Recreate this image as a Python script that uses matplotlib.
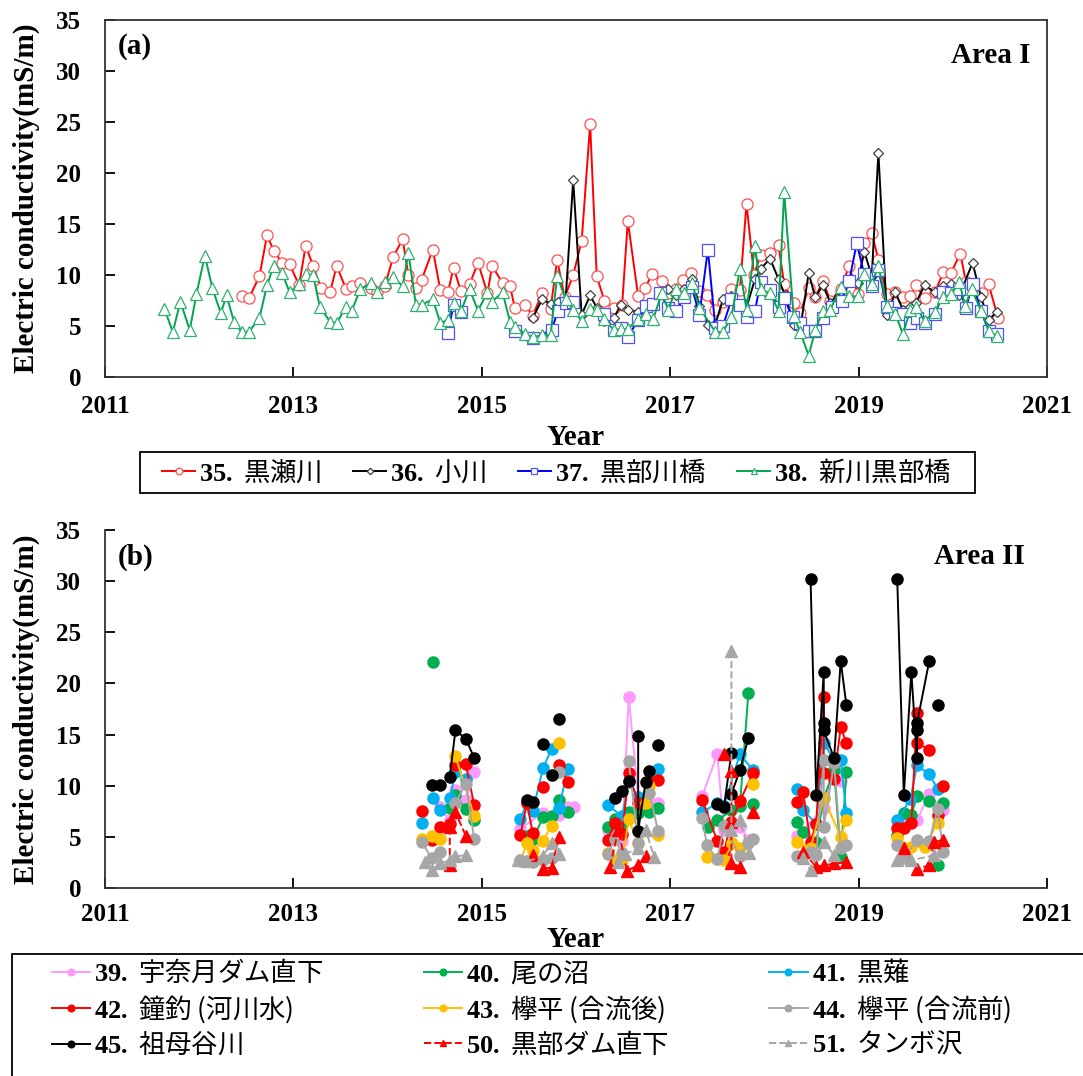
import numpy as np
import matplotlib
matplotlib.use('Agg')
import matplotlib.pyplot as plt
from matplotlib.patches import Rectangle

nan = np.nan

# ---- (a) Area I : monthly EC, open markers ----
s35_x = [2012.45, 2012.53, 2012.64, 2012.72, 2012.79, 2012.88, 2012.96, 2013.06, 2013.13, 2013.21,
         2013.29, 2013.39, 2013.46, 2013.56, 2013.62, 2013.71, 2013.82, 2013.89, 2013.97, 2014.06,
         2014.16, 2014.22, 2014.30, 2014.36, 2014.48, 2014.56, 2014.64, 2014.70, 2014.78, 2014.87,
         2014.96, 2015.06, 2015.11, 2015.22, 2015.30, 2015.35, 2015.46, 2015.54, 2015.64, 2015.73,
         2015.80, 2015.88, 2015.97, 2016.06, 2016.15, 2016.22, 2016.30, 2016.40, 2016.49, 2016.55,
         2016.66, 2016.73, 2016.81, 2016.91, 2016.98, 2017.06, 2017.14, 2017.22, 2017.31, 2017.39,
         2017.48, 2017.56, 2017.65, 2017.74, 2017.81, 2017.89, 2017.96, 2018.06, 2018.15, 2018.21,
         2018.31, 2018.38, 2018.47, 2018.54, 2018.62, 2018.70, 2018.81, 2018.90, 2018.99, 2019.06,
         2019.14, 2019.21, 2019.30, 2019.39, 2019.47, 2019.55, 2019.61, 2019.70, 2019.81, 2019.90,
         2019.98, 2020.08, 2020.14, 2020.23, 2020.31, 2020.38, 2020.48]
s35_v = [7.9, 7.75, 9.9, 13.9, 12.4, 11.2, 11.05, 9.0, 12.85, 10.9,
         8.75, 8.35, 10.9, 8.6, 8.9, 9.2, 8.7, 8.35, 8.9, 11.8,
         13.5, 10.0, 8.7, 9.5, 12.5, 8.5, 8.3, 10.7, 8.4, 9.1,
         11.2, 8.2, 10.9, 9.2, 8.9, 6.8, 7.1, 6.0, 8.2, 6.7,
         11.5, 7.8, 10.0, 13.3, 24.8, 9.9, 7.5, 6.8, 7.1, 15.3,
         7.9, 8.7, 10.1, 9.4, 8.2, 8.6, 9.5, 10.2, 8.4, 8.0,
         6.6, 7.4, 8.6, 8.5, 17.0, 10.0, 12.0, 12.2, 12.9, 9.1,
         7.3, 6.3, 8.7, 7.8, 9.4, 7.5, 8.6, 10.9, 8.1, 13.1,
         14.1, 11.5, 8.1, 8.3, 7.8, 7.9, 9.0, 7.7, 8.3, 10.3,
         10.2, 12.1, 9.3, 8.6, 8.2, 9.1, 5.8]

s36_x = [2015.54, 2015.64, 2015.73, 2015.81, 2015.89, 2015.97, 2016.06, 2016.15, 2016.22, 2016.30,
         2016.40, 2016.48, 2016.55, 2016.66, 2016.74, 2016.82, 2016.91, 2016.98, 2017.06, 2017.15,
         2017.23, 2017.31, 2017.40, 2017.48, 2017.56, 2017.65, 2017.74, 2017.81, 2017.90, 2017.96,
         2018.06, 2018.15, 2018.22, 2018.31, 2018.38, 2018.47, 2018.54, 2018.62, 2018.70, 2018.81,
         2018.90, 2018.99, 2019.06, 2019.14, 2019.21, 2019.30, 2019.39, 2019.47, 2019.55, 2019.61,
         2019.70, 2019.81, 2019.90, 2019.98, 2020.07, 2020.21, 2020.30, 2020.38, 2020.47]
s36_v = [5.8, 7.6, 7.2, 7.4, 7.6, 19.3, 6.1, 8.0, 6.8, 5.5,
         5.8, 7.1, 6.6, 6.4, 7.1, 7.2, 8.4, 8.6, 8.0, 8.6,
         9.6, 7.0, 5.1, 5.2, 7.6, 7.9, 7.0, 6.8, 9.6, 10.6,
         11.6, 9.6, 8.0, 5.1, 4.7, 10.2, 7.8, 9.0, 7.3, 8.4,
         9.3, 9.2, 12.3, 9.9, 22.0, 6.1, 8.3, 6.6, 6.9, 7.3,
         9.0, 8.3, 8.9, 9.1, 8.0, 11.2, 7.8, 5.6, 6.4]

s37_x = [2014.64, 2014.70, 2014.78, nan, 2015.35, 2015.54, 2015.74, 2015.81, 2015.89, 2015.97,
         nan, 2016.30, 2016.40, 2016.48, 2016.55, 2016.66, 2016.74, 2016.82, 2016.89, 2016.98,
         2017.06, 2017.15, 2017.23, 2017.31, 2017.40, 2017.48, 2017.56, 2017.65, 2017.74, 2017.81,
         2017.90, 2017.96, 2018.06, 2018.15, 2018.21, 2018.30, 2018.38, 2018.47, 2018.54, 2018.62,
         2018.72, 2018.82, 2018.90, 2018.98, 2019.06, 2019.14, 2019.21, 2019.30, 2019.39, 2019.47,
         2019.55, 2019.62, 2019.70, 2019.81, 2019.90, 2019.98, 2020.07, 2020.14, 2020.21, 2020.30,
         2020.38, 2020.47]
s37_v = [4.3, 7.1, 6.4, nan, 4.5, 3.8, 4.6, 6.5, 7.3, 7.4,
         nan, 6.2, 4.6, 4.8, 3.9, 5.6, 7.0, 7.2, 8.2, 6.8,
         6.5, 7.8, 8.8, 6.1, 12.5, 4.8, 5.0, 7.6, 7.1, 5.9,
         6.5, 9.3, 8.5, 6.9, 7.7, 5.9, 5.3, 4.5, 4.5, 5.8,
         6.9, 7.5, 9.4, 13.1, 10.1, 8.9, 10.5, 6.9, 6.3, 6.2,
         5.3, 5.8, 5.3, 6.2, 8.3, 8.2, 8.6, 6.8, 9.1, 6.5,
         4.5, 4.2]

s38_x = [2011.63, 2011.72, 2011.80, 2011.90, 2011.97, 2012.06, 2012.14, 2012.23, 2012.29, 2012.37,
         2012.45, 2012.53, 2012.64, 2012.72, 2012.79, 2012.88, 2012.96, 2013.06, 2013.13, 2013.21,
         2013.28, 2013.39, 2013.46, 2013.56, 2013.62, 2013.71, 2013.82, 2013.89, 2013.97, 2014.06,
         2014.16, 2014.22, 2014.30, 2014.36, 2014.48, 2014.56, 2014.64, 2014.70, 2014.78, 2014.87,
         2014.96, 2015.06, 2015.11, 2015.22, 2015.30, 2015.35, 2015.46, 2015.54, 2015.64, 2015.73,
         2015.80, 2015.89, 2015.97, 2016.06, 2016.15, 2016.22, 2016.30, 2016.40, 2016.48, 2016.55,
         2016.66, 2016.74, 2016.82, 2016.91, 2016.98, 2017.06, 2017.15, 2017.23, 2017.31, 2017.48,
         2017.56, 2017.65, 2017.74, 2017.81, 2017.90, 2017.96, 2018.06, 2018.15, 2018.21, 2018.31,
         2018.38, 2018.47, 2018.54, 2018.62, 2018.70, 2018.81, 2018.90, 2018.99, 2019.06, 2019.14,
         2019.21, 2019.30, 2019.39, 2019.47, 2019.55, 2019.61, 2019.70, 2019.81, 2019.90, 2019.98,
         2020.07, 2020.13, 2020.20, 2020.30, 2020.38, 2020.47]
s38_v = [6.7, 4.4, 7.4, 4.6, 8.1, 11.9, 8.7, 6.25, 8.0, 5.4,
         4.4, 4.45, 5.8, 9.0, 10.9, 10.2, 8.3, 9.1, 10.1, 10.0,
         6.9, 5.4, 5.3, 6.9, 6.5, 8.6, 9.2, 8.3, 9.3, 9.8,
         8.9, 12.2, 7.1, 7.1, 7.6, 5.3, 5.6, 7.3, 6.5, 8.6,
         6.5, 8.3, 7.4, 8.3, 5.4, 4.9, 4.25, 3.9, 4.1, 4.1,
         9.9, 7.6, 6.6, 5.5, 6.7, 6.6, 5.7, 4.6, 4.7, 4.7,
         5.7, 6.2, 5.7, 8.2, 6.6, 8.6, 8.2, 9.2, 6.8, 4.4,
         4.4, 5.9, 10.6, 6.6, 12.8, 8.6, 8.2, 6.5, 18.1, 6.0,
         4.4, 2.1, 4.6, 6.5, 6.6, 8.8, 7.9, 7.9, 10.1, 9.1,
         10.9, 7.0, 6.2, 4.2, 6.6, 6.9, 5.5, 6.4, 7.8, 8.1,
         9.3, 7.0, 8.6, 6.5, 4.5, 4.0]

labels_a = [r'$\mathbf{35.}$ 黒瀬川', r'$\mathbf{36.}$ 小川',
            r'$\mathbf{37.}$ 黒部川橋', r'$\mathbf{38.}$ 新川黒部橋']

# ---- (b) Area II : seasonal surveys, filled markers (nan = break in line) ----
s39_x = [2014.56, 2014.66, 2014.72, 2014.83, 2014.92, nan, 2015.41, 2015.65, 2015.82, 2015.91, 2015.98, nan,
         2016.34, 2016.49, 2016.56, 2016.66, 2016.78, 2016.87, nan, 2017.34, 2017.50, 2017.57, 2017.74, 2017.84, nan,
         2018.35, 2018.63, 2018.74, 2018.81, nan, 2019.48, 2019.62, 2019.75, 2019.90]
s39_v = [7.9, 6.6, 9.6, 8.6, 11.3, nan, 5.8, 7.35, 7.1, 7.9, 7.9, nan,
         5.7, 4.6, 18.7, 8.9, 8.4, 8.3, nan, 9.0, 13.1, 5.7, 6.0, 4.7, nan,
         5.1, 7.8, 12.0, 10.5, nan, 6.3, 6.6, 9.2, 7.6]

s40_x = [2014.48, nan, 2014.66, 2014.72, 2014.83, 2014.92, nan, 2015.48, 2015.54, 2015.65, 2015.74, 2015.82, 2015.91, nan,
         2016.34, 2016.41, 2016.49, 2016.56, 2016.66, 2016.78, 2016.87, nan, 2017.40, 2017.50, 2017.65, 2017.74, 2017.83, nan,
         2017.88, nan, 2018.35, 2018.41, 2018.55, 2018.63, 2018.74, 2018.81, 2018.87, nan,
         2019.41, 2019.48, 2019.56, 2019.62, 2019.75, nan, 2019.84, nan, 2019.90]
s40_v = [22.1, nan, 7.8, 9.1, 7.7, 6.6, nan, 5.1, 4.75, 6.9, 7.0, 8.65, 7.4, nan,
         6.0, 6.7, 6.3, 7.4, 7.3, 7.4, 7.8, nan, 6.0, 6.6, 7.6, 8.0, 19.1, nan,
         8.2, nan, 6.5, 5.5, 4.5, 8.8, 11.5, 3.0, 11.3, nan,
         5.2, 7.3, 7.1, 9.0, 8.5, nan, 2.2, nan, 8.3]

s41_x = [2014.36, nan, 2014.48, 2014.56, nan, 2014.66, 2014.72, 2014.83, nan,
         2015.41, 2015.48, 2015.54, 2015.65, 2015.74, nan, 2015.82, 2015.91, nan,
         2016.34, 2016.49, 2016.56, 2016.66, nan, 2016.87, nan, 2017.34, 2017.50, 2017.57, 2017.74, 2017.88, nan,
         2018.35, 2018.41, 2018.55, 2018.63, 2018.74, 2018.81, 2018.87, nan, 2019.41, 2019.55, 2019.62, 2019.75, 2019.84]
s41_v = [6.4, nan, 8.8, 7.6, nan, 8.8, 11.3, 10.7, nan,
         6.7, 8.4, 7.5, 11.7, 13.6, nan, 7.8, 11.6, nan,
         8.1, 7.0, 10.4, 8.9, nan, 11.6, nan, 7.4, 8.3, 8.0, 13.1, 11.5, nan,
         9.7, 7.6, 6.3, 14.2, 12.5, 12.5, 7.3, nan, 6.6, 8.7, 12.0, 11.1, 9.7]

s42_x = [2014.36, nan, 2014.47, 2014.56, nan, 2014.66, nan, 2014.72, 2014.83, 2014.92, nan,
         2015.41, 2015.48, 2015.54, nan, 2015.65, nan, 2015.82, 2015.91, nan,
         2016.34, 2016.41, 2016.49, 2016.56, 2016.66, nan, 2016.78, 2016.87, nan,
         2017.34, 2017.50, 2017.57, 2017.65, 2017.74, 2017.88, nan,
         2018.35, 2018.41, 2018.49, 2018.55, 2018.63, 2018.63, 2018.74, 2018.81, 2018.87, nan,
         2019.41, 2019.48, 2019.56, 2019.62, 2019.62, 2019.75, nan, 2019.84, nan, 2019.90]
s42_v = [7.5, nan, 4.7, 6.0, nan, 6.3, nan, 12.0, 12.1, 8.1, nan,
         5.2, 8.3, 5.4, nan, 9.9, nan, 12.0, 10.4, nan,
         4.7, 6.4, 5.3, 11.2, 8.3, nan, 10.5, 10.6, nan,
         8.6, 4.6, 3.5, 6.5, 8.5, 11.25, nan,
         8.4, 9.4, 4.5, 6.3, 18.7, 11.2, 10.7, 15.7, 14.2, nan,
         5.9, 5.9, 6.4, 17.1, 14.2, 13.5, nan, 7.1, nan, 10.0]

s43_x = [2014.36, 2014.47, 2014.56, nan, 2014.72, 2014.92, nan,
         2015.41, 2015.48, 2015.54, 2015.65, 2015.74, nan, 2015.82, nan,
         2016.34, 2016.41, 2016.49, 2016.56, 2016.66, nan, 2016.74, 2016.78, nan, 2016.87, nan,
         2017.39, 2017.50, 2017.57, 2017.66, 2017.74, nan, 2017.88, nan,
         2018.35, 2018.49, 2018.63, 2018.81, 2018.87, nan, 2019.41, 2019.56, 2019.70, 2019.84]
s43_v = [4.75, 5.1, 4.75, nan, 12.9, 7.0, nan,
         2.6, 4.4, 3.6, 4.6, 6.1, nan, 14.2, nan,
         3.45, 2.7, 2.7, 6.7, 4.4, nan, 8.3, 10.0, nan, 5.2, nan,
         3.0, 2.8, 2.7, 4.4, 3.9, nan, 10.2, nan,
         4.5, 3.9, 8.8, 5.0, 6.6, nan, 4.9, 4.0, 4.0, 6.4]

s44_x = [2014.36, 2014.47, 2014.56, nan, 2014.72, 2014.83, 2014.92, nan,
         2015.41, 2015.48, 2015.54, 2015.65, 2015.74, nan, 2015.82, nan,
         2016.34, 2016.41, 2016.49, nan, 2016.56, 2016.66, nan, 2016.78, 2016.87, nan,
         2017.34, 2017.39, 2017.50, 2017.57, 2017.74, 2017.83, 2017.88, nan,
         2018.35, 2018.49, 2018.55, 2018.63, 2018.63, 2018.74, 2018.81, 2018.87, nan,
         2019.41, 2019.48, 2019.62, 2019.75, 2019.84, 2019.90]
s44_v = [4.5, 2.9, 3.5, nan, 8.3, 10.2, 4.75, nan,
         2.7, 2.6, 2.5, 2.7, 2.9, nan, 11.3, nan,
         3.3, 4.75, 3.45, nan, 12.4, 4.4, nan, 9.3, 5.6, nan,
         6.8, 4.2, 2.8, 6.1, 3.1, 4.4, 4.75, nan,
         3.1, 3.5, 3.2, 12.5, 6.0, 12.2, 3.9, 4.2, nan,
         4.2, 2.9, 4.7, 4.6, 7.7, 3.5]

s45_x = [2014.47, 2014.56, nan, 2014.66, 2014.72, 2014.83, 2014.92, nan,
         2015.48, 2015.54, nan, 2015.65, nan, 2015.74, nan, 2015.82, nan,
         2016.41, nan, 2016.49, nan, 2016.56, nan, 2016.66, 2016.66, 2016.74, nan, 2016.78, nan, 2016.87, nan,
         2017.50, 2017.57, 2017.65, nan, 2017.65, 2017.74, 2017.83, nan,
         2018.49, 2018.55, 2018.63, 2018.63, 2018.63, 2018.74, 2018.81, 2018.87, nan,
         2019.41, 2019.48, 2019.56, 2019.62, 2019.62, 2019.62, 2019.75, nan, 2019.84]
s45_v = [10.1, 10.1, nan, 10.9, 15.4, 14.6, 12.7, nan,
         8.6, 8.4, nan, 14.1, nan, 11.0, nan, 16.5, nan,
         8.8, nan, 9.5, nan, 10.5, nan, 14.9, 5.6, 10.4, nan, 11.4, nan, 14.0, nan,
         8.2, 7.9, 13.2, nan, 9.2, 11.5, 14.7, nan,
         30.2, 9.1, 21.1, 16.1, 15.4, 12.7, 22.2, 17.9, nan,
         30.2, 9.1, 21.1, 12.7, 15.4, 16.1, 22.2, nan, 17.9]

s50_x = [2014.66, 2014.66, 2014.72, 2014.83, nan, 2015.54, nan, 2015.65, 2015.74, 2015.82, nan,
         2016.36, 2016.45, 2016.54, 2016.66, 2016.74, nan, 2017.57, nan, 2017.65, 2017.65, 2017.65, 2017.74, nan,
         2017.88, nan, 2018.41, 2018.55, 2018.63, 2018.74, 2018.87, nan,
         2019.48, 2019.62, 2019.75, 2019.80, 2019.90]
s50_v = [2.2, 6.0, 7.4, 5.1, nan, 3.2, nan, 1.9, 2.0, 5.0, nan,
         2.1, 5.7, 1.7, 2.2, 3.1, nan, 13.1, nan, 11.4, 6.5, 2.4, 2.1, nan,
         7.4, nan, 3.5, 2.1, 2.2, 2.4, 2.5, nan,
         3.9, 1.9, 2.2, 4.5, 4.7]

s51_x = [2014.40, 2014.47, 2014.56, 2014.66, 2014.72, 2014.83, nan,
         2015.38, 2015.48, 2015.65, 2015.74, 2015.82, nan,
         2016.45, 2016.52, 2016.66, 2016.74, 2016.83, nan, 2017.65, 2017.65, 2017.74, 2017.84, nan,
         2018.41, 2018.49, 2018.63, 2018.74, nan, 2019.41, 2019.56, 2019.80]
s51_v = [2.5, 1.75, 2.4, 2.7, 3.1, 3.2, nan,
         2.7, 2.6, 3.1, 4.4, 3.3, nan,
         2.5, 3.3, 3.9, 5.7, 3.0, nan, 23.2, 5.7, 6.6, 3.4, nan,
         2.9, 1.8, 4.5, 3.2, nan, 2.7, 2.7, 3.2]

labels_b = [r'$\mathbf{39.}$ 宇奈月ダム直下', r'$\mathbf{40.}$ 尾の沼', r'$\mathbf{41.}$ 黒薙',
            r'$\mathbf{42.}$ 鐘釣 (河川水)', r'$\mathbf{43.}$ 欅平 (合流後)', r'$\mathbf{44.}$ 欅平 (合流前)',
            r'$\mathbf{45.}$ 祖母谷川', r'$\mathbf{50.}$ 黒部ダム直下', r'$\mathbf{51.}$ タンボ沢']

xticks = [2011, 2013, 2015, 2017, 2019, 2021]
yticks = [0, 5, 10, 15, 20, 25, 30, 35]

plt.rcParams['font.family'] = ['Liberation Serif', 'Noto Sans CJK JP']
plt.rcParams['mathtext.fontset'] = 'custom'
plt.rcParams['mathtext.bf'] = 'Liberation Serif:bold'
plt.rcParams['mathtext.rm'] = 'Liberation Serif'

fig = plt.figure(figsize=(10.83, 10.76), dpi=100)
W, H = 1083, 1076
ax1 = fig.add_axes([105 / W, 1 - 377 / H, 942 / W, 357 / H])
ax2 = fig.add_axes([105 / W, 1 - 888 / H, 942 / W, 358 / H])

lw = 1.4
ax1.plot(s35_x, s35_v, color='#FF0000', lw=lw, marker='o', ms=8, mfc='white', mec='#FF5050', mew=0.9)
ax1.plot(s36_x, s36_v, color='#000000', lw=lw, marker='D', ms=5.5, mfc='white', mec='#404040', mew=0.9)
ax1.plot(s37_x, s37_v, color='#0000FF', lw=lw, marker='s', ms=8, mfc='white', mec='#5050FF', mew=0.9)
ax1.plot(s38_x, s38_v, color='#00A550', lw=lw, marker='^', ms=8, mfc='white', mec='#30B070', mew=0.9)

series_b = [
    (s39_x, s39_v, '#FF99FF', 'o', '-'),
    (s40_x, s40_v, '#00B050', 'o', '-'),
    (s41_x, s41_v, '#00B0F0', 'o', '-'),
    (s42_x, s42_v, '#FF0000', 'o', '-'),
    (s43_x, s43_v, '#FFC000', 'o', '-'),
    (s44_x, s44_v, '#A6A6A6', 'o', '-'),
    (s45_x, s45_v, '#000000', 'o', '-'),
    (s50_x, s50_v, '#FF0000', '^', '--'),
    (s51_x, s51_v, '#A6A6A6', '^', '--'),
]
for x, v, c, m, ls in series_b:
    ax2.plot(x, v, color=c, marker=m, ls=ls, lw=lw, ms=8, mec=c)

tick_font = {'family': 'Liberation Serif', 'weight': 'bold', 'size': 18}
label_font = {'family': 'Liberation Serif', 'weight': 'bold', 'size': 21}
for ax in (ax1, ax2):
    ax.set_xlim(2011, 2021)
    ax.set_ylim(0, 35)
    ax.set_xticks(xticks)
    ax.set_yticks(yticks)
    ax.set_xticklabels([str(t) for t in xticks], fontdict=tick_font)
    ax.set_yticklabels([str(t) for t in yticks], fontdict=tick_font)
    ax.tick_params(direction='in', length=7, width=1.3)
    ax.tick_params(axis='y', pad=17)
    ax.set_ylabel('Electric conductivity(mS/m)', fontdict=label_font, labelpad=12)
    for sp in ax.spines.values():
        sp.set_linewidth(1.3)
        sp.set_color('#333333')

ax1.tick_params(axis='x', pad=13)
ax1.set_xlabel('Year', fontdict=label_font, labelpad=4)
ax2.tick_params(axis='x', pad=11)
ax2.set_xlabel('Year', fontdict=label_font, labelpad=0)

ax2.spines['top'].set_visible(False)
ax2.spines['right'].set_visible(False)

ax1.text(0.014, 0.925, '(a)', transform=ax1.transAxes, fontdict=label_font, va='center')
ax1.text(0.983, 0.90, 'Area I', transform=ax1.transAxes, fontdict=label_font, ha='right', va='center')
ax2.text(0.014, 0.925, '(b)', transform=ax2.transAxes, fontdict=label_font, va='center')
ax2.text(0.977, 0.925, 'Area II', transform=ax2.transAxes, fontdict=label_font, ha='right', va='center')

leg_font = {'family': 'Noto Sans CJK JP', 'size': 19}

# legend (a): frame drawn separately so the side padding can be wider than the vertical one
fig.patches.append(Rectangle((140 / W, 1 - 493 / H), 835 / W, 41 / H, transform=fig.transFigure,
                             fill=False, edgecolor='black', lw=1.3))
fig.legend(ax1.get_lines(), labels_a, loc='center', bbox_to_anchor=(557 / W, 1 - 472 / H),
           ncol=4, prop=leg_font, frameon=False, handlelength=1.25, handletextpad=0.15,
           columnspacing=1.2, markerscale=0.6, borderpad=0, borderaxespad=0)

# legend (b): row-wise order in 3 columns, frame runs off the right and bottom edge
order = [0, 3, 6, 1, 4, 7, 2, 5, 8]
lines_b = ax2.get_lines()
fig.patches.append(Rectangle((12 / W, -0.02), 1.0, 1.02 - 954 / H, transform=fig.transFigure,
                             fill=False, edgecolor='black', lw=1.3))
fig.legend([lines_b[i] for i in order], [labels_b[i] for i in order], loc='upper left',
           bbox_to_anchor=(52 / W, 1 - 959 / H), ncol=3, prop=leg_font, frameon=False,
           handlelength=1.45, handletextpad=0.15, columnspacing=3.8, markerscale=0.6,
           borderpad=0, labelspacing=0.22, borderaxespad=0)

fig.savefig('out.png', dpi=100)
